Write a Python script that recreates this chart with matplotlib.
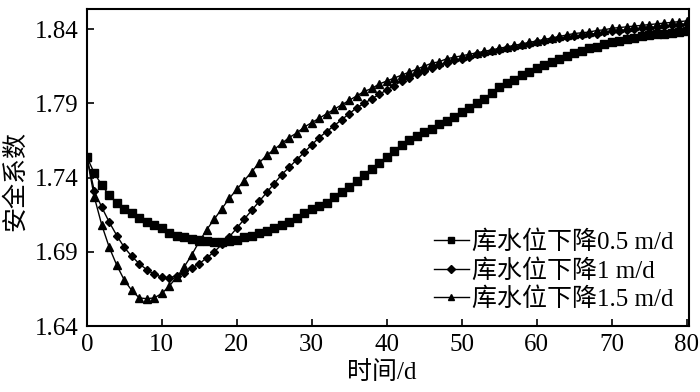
import matplotlib
matplotlib.use("Agg")
import matplotlib.pyplot as plt

plt.rcParams['font.family'] = ['Liberation Serif', 'Noto Sans CJK SC']
plt.rcParams['axes.unicode_minus'] = False

days = list(range(0, 81))

# 库水位下降0.5 m/d
fs_05 = [1.754, 1.743, 1.735, 1.728, 1.723, 1.719, 1.716, 1.713, 1.710, 1.708,
         1.706, 1.703, 1.701, 1.700, 1.699, 1.698, 1.697, 1.6965, 1.6965, 1.697,
         1.698, 1.700, 1.701, 1.7025, 1.704, 1.706, 1.708, 1.710, 1.713, 1.716,
         1.719, 1.721, 1.723, 1.727, 1.730, 1.734, 1.738, 1.742, 1.746, 1.750,
         1.754, 1.758, 1.762, 1.765, 1.768, 1.771, 1.773, 1.776, 1.778, 1.781,
         1.784, 1.787, 1.790, 1.793, 1.797, 1.801, 1.804, 1.806, 1.809, 1.811,
         1.814, 1.816, 1.818, 1.820, 1.822, 1.824, 1.825, 1.827, 1.828, 1.830,
         1.831, 1.832, 1.833, 1.834, 1.835, 1.836, 1.8365, 1.837, 1.8375, 1.838,
         1.8385]

# 库水位下降1 m/d
fs_1 = [1.754, 1.731, 1.720, 1.710, 1.701, 1.693, 1.687, 1.682, 1.678, 1.675,
        1.673, 1.6725, 1.674, 1.676, 1.679, 1.682, 1.686, 1.690, 1.695, 1.700,
        1.706, 1.712, 1.718, 1.724, 1.730, 1.736, 1.742, 1.747, 1.752, 1.757,
        1.762, 1.767, 1.771, 1.775, 1.779, 1.783, 1.787, 1.790, 1.793, 1.796,
        1.799, 1.802, 1.805, 1.807, 1.810, 1.812, 1.814, 1.816, 1.817, 1.819,
        1.820, 1.821, 1.823, 1.824, 1.825, 1.826, 1.827, 1.828, 1.829, 1.830,
        1.831, 1.832, 1.833, 1.834, 1.8345, 1.835, 1.836, 1.8365, 1.837, 1.838,
        1.8385, 1.839, 1.8395, 1.840, 1.8405, 1.841, 1.8415, 1.842, 1.8425, 1.843,
        1.8435]

# 库水位下降1.5 m/d
fs_15 = [1.754, 1.727, 1.708, 1.693, 1.681, 1.671, 1.664, 1.659, 1.6585, 1.659,
         1.662, 1.667, 1.673, 1.680, 1.688, 1.697, 1.705, 1.712, 1.719, 1.726,
         1.732, 1.738, 1.744, 1.750, 1.755, 1.759, 1.763, 1.767, 1.770, 1.774,
         1.777, 1.780, 1.783, 1.786, 1.789, 1.792, 1.795, 1.798, 1.800, 1.803,
         1.805, 1.807, 1.809, 1.811, 1.813, 1.815, 1.817, 1.818, 1.820, 1.821,
         1.822, 1.823, 1.824, 1.825, 1.826, 1.827, 1.828, 1.829, 1.830, 1.831,
         1.832, 1.833, 1.834, 1.835, 1.836, 1.837, 1.8375, 1.838, 1.839, 1.8395,
         1.8405, 1.841, 1.8415, 1.842, 1.8425, 1.843, 1.8435, 1.844, 1.8445, 1.845,
         1.8455]

labels = ["库水位下降0.5 m/d", "库水位下降1 m/d", "库水位下降1.5 m/d"]
yticks = [1.64, 1.69, 1.74, 1.79, 1.84]

fig = plt.figure(figsize=(7, 3.92), dpi=100)
ax = fig.add_axes([0.124, 0.168, 0.86, 0.809])

ax.plot(days, fs_05, color='black', lw=1, marker='s', ms=5.5, label=labels[0])
ax.plot(days, fs_1, color='black', lw=1, marker='D', ms=4.5, label=labels[1])
ax.plot(days, fs_15, color='black', lw=1, marker='^', ms=6, label=labels[2])

ax.set_xlim(0, 80.3)
ax.set_ylim(1.64, 1.8535)
ax.set_xticks(range(0, 81, 10))
ax.set_yticks(yticks)
ax.set_yticklabels([f"{v:.2f}" for v in yticks])
ax.tick_params(direction='in', length=5, width=1.2, labelsize=18)
ax.tick_params(axis='x', pad=6)
ax.tick_params(axis='y', pad=6)
for sp in ax.spines.values():
    sp.set_linewidth(1.5)

ax.set_xlabel("时间/d", fontsize=18)
ax.xaxis.set_label_coords(0.49, -0.11)
ax.set_ylabel("安全系数", fontsize=18)
ax.yaxis.set_label_coords(-0.1, 0.457)

ax.legend(loc='lower right', frameon=False, fontsize=18, handlelength=1.4,
          handletextpad=0.15, labelspacing=0.2, borderaxespad=0.2,
          bbox_to_anchor=(1.0, 0.0), markerscale=0.8)

fig.savefig("out.png", dpi=100)
